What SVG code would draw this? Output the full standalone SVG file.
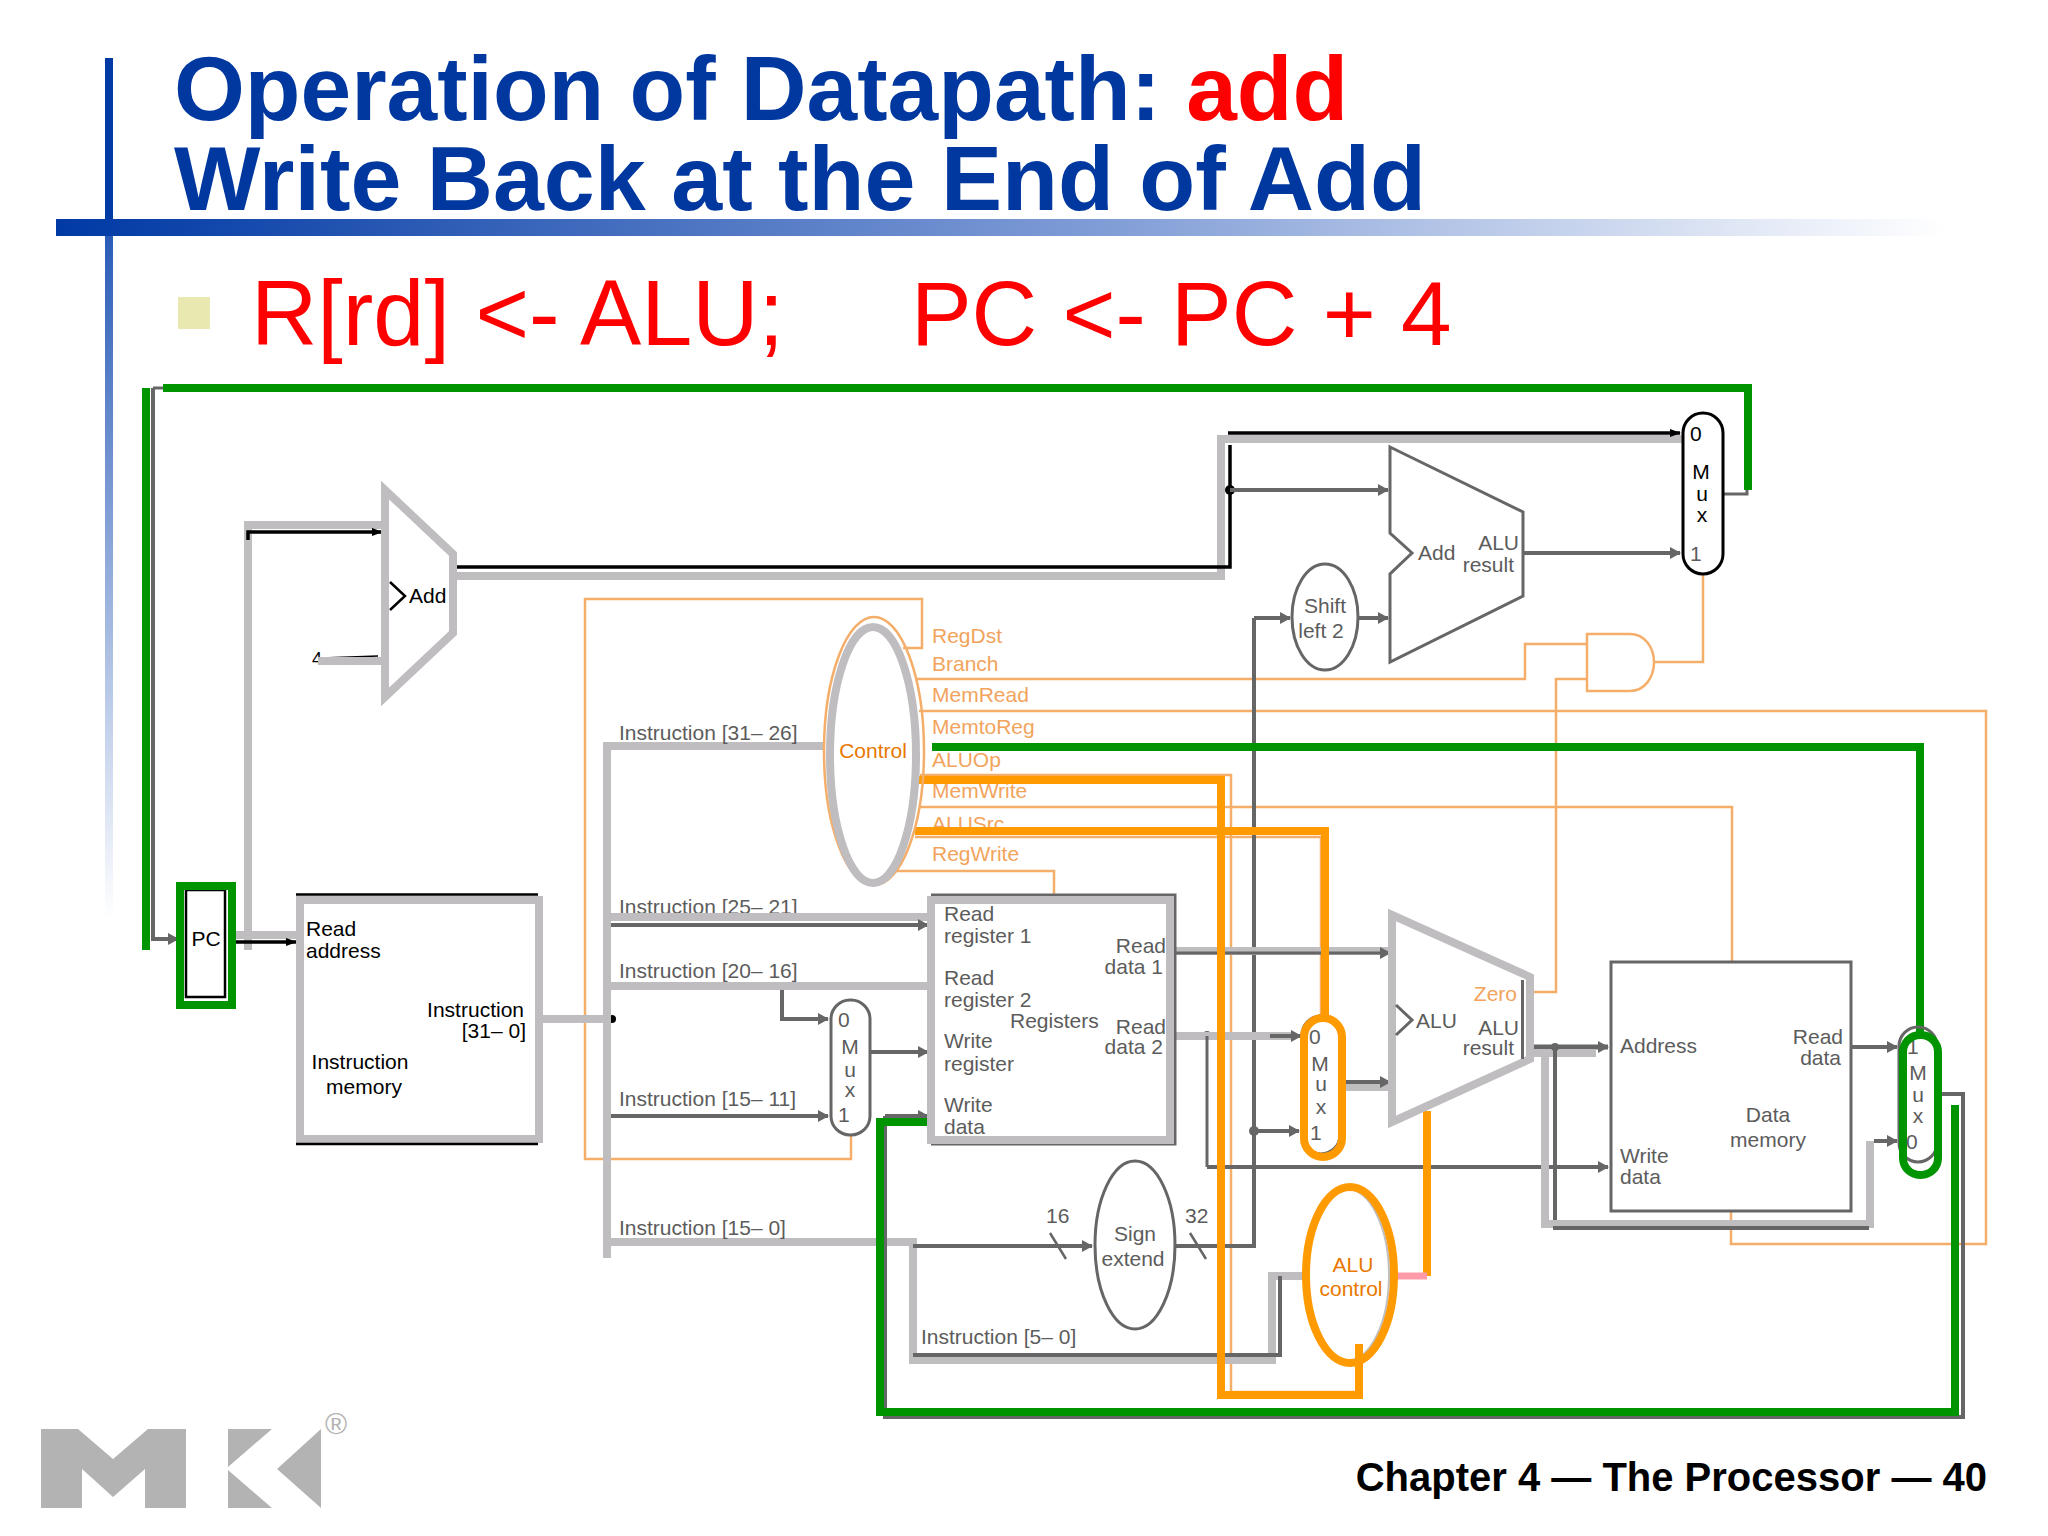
<svg xmlns="http://www.w3.org/2000/svg" width="2048" height="1536" viewBox="0 0 2048 1536">
<style>
text{font-family:"Liberation Sans",Arial,sans-serif;font-size:21px;fill:#5c5c5c}
.k{fill:#000}.o{fill:#f2a45c}.c{fill:#e87800}.m{text-anchor:middle}.e{text-anchor:end}
.title{font-size:91.100px;font-weight:bold;fill:#0038a0}
.sub{font-size:91.500px;fill:#fe0000}
.foot{font-size:40px;font-weight:bold;fill:#000;text-anchor:end}
.g{fill:none;stroke:#bfbdbf;stroke-width:8}
.d{fill:none;stroke:#666;stroke-width:4}
.d3{fill:none;stroke:#666;stroke-width:3}
.b{fill:none;stroke:#000;stroke-width:3.500}
.t{fill:none;stroke:#f4ae6a;stroke-width:2.500}
.or{fill:none;stroke:#ff9a00;stroke-width:8}
.gr{fill:none;stroke:#009400;stroke-width:8}
.ad{marker-end:url(#ad)}.ab{marker-end:url(#ab)}
</style>
<defs>
<marker id="ad" markerUnits="userSpaceOnUse" markerWidth="12" markerHeight="14" refX="10" refY="7" orient="auto"><path d="M0 1L11 7L0 13Z" fill="#666"/></marker>
<marker id="ab" markerUnits="userSpaceOnUse" markerWidth="12" markerHeight="12" refX="10" refY="6" orient="auto"><path d="M0 2L11 6L0 10Z" fill="#000"/></marker>
<linearGradient id="hbar" gradientUnits="userSpaceOnUse" x1="56" y1="0" x2="1946" y2="0"><stop offset="0" stop-color="#003aa5"/><stop offset=".12" stop-color="#1a4dae"/><stop offset=".55" stop-color="#7f9cd6"/><stop offset="1" stop-color="#fff"/></linearGradient>
<linearGradient id="vbar" gradientUnits="userSpaceOnUse" x1="0" y1="235" x2="0" y2="920"><stop offset="0" stop-color="#2a5cb8"/><stop offset="1" stop-color="#fff"/></linearGradient>
</defs>
<rect width="2048" height="1536" fill="#fff"/>

<g id="frame">
<rect x="105" y="58" width="8" height="170" fill="#003aa5"/>
<rect x="105" y="228" width="8" height="692" fill="url(#vbar)"/>
<rect x="56" y="219" width="1890" height="17" fill="url(#hbar)"/>
<rect x="178" y="297" width="32" height="32" fill="#e8e8b0"/>
<text class="title" x="174" y="120">Operation of Datapath: <tspan fill="#fe0000">add</tspan></text>
<text class="title" style="font-size:91.600px" x="174" y="210">Write Back at the End of Add</text>
<text class="sub" style="font-size:91.800px" x="251" y="345">R[rd] &lt;- ALU;</text>
<text class="sub" style="font-size:90.900px" x="911" y="345">PC &lt;- PC + 4</text>
<text class="foot" x="1987" y="1491">Chapter 4 — The Processor — 40</text>
</g>

<g id="logo" fill="#b4b3b4">
<path d="M41 1429H78L113 1459L148 1429H186V1508H145V1469L113 1497L82 1469V1508H41Z"/>
<path d="M228 1429H272L228 1467ZM228 1470L272 1508H228ZM321 1429V1508L277 1469Z"/>
<text x="325" y="1434" style="font-size:30px;fill:#b4b3b4">®</text>
</g>

<g id="under-wire-labels">
<text x="619" y="914">Instruction [25– 21]</text>
<text class="o" x="932" y="798">MemWrite</text>
<text class="o" x="932" y="831">ALUSrc</text>
<text x="312" y="665" class="k" style="font-size:18px">4</text>
</g>

<g id="connectors">
<!-- tan control wires -->
<path class="t" d="M903 648H922V599H585V1159H851V1135"/>
<path class="t" d="M917 679H1525V644H1587"/>
<path class="t" d="M1533 992H1556V679H1587"/>
<path class="t" d="M1654 662H1703V574"/>
<path class="t" d="M919 711H1986V1244H1731V1211"/>
<path class="t" d="M920 775H1231V1392H1356"/>
<path class="t" d="M920 807H1732V962"/>
<path class="t" d="M915 837H1321V1018"/>
<path class="t" d="M895 871H1054V895"/>

<!-- PC and fetch -->
<path class="g" d="M248 950V525H383"/>
<path class="b ab" d="M248 540V532H382"/>
<path class="g" d="M232 935H296"/>
<path class="b ab" d="M232 942H296"/>
<path d="M321 658L378 656" stroke="#000" stroke-width="1.500" fill="none"/>
<path class="g" d="M318 661H385"/>
<path class="d ad" d="M153 388V939H178"/>
<path class="d3" d="M153 388H165"/>
<path class="g" d="M457 576H1221V439H1683"/>
<path class="b" d="M457 567H1230V445"/>
<path class="b ab" d="M1228 433H1680"/>
<circle cx="1230" cy="490" r="5" fill="#000"/>
<path class="d ad" d="M1230 490H1388"/>
<path class="d ad" d="M1523 553H1680"/>
<path class="d ad" d="M1358 618H1388"/>
<path class="d3" d="M1723 494H1747V490"/>

<!-- instruction bus -->
<circle cx="612" cy="1019" r="4" fill="#000"/>
<path class="g" d="M543 1019H607"/>
<path class="g" d="M825 746H607V1258"/>
<path class="g" d="M611 917H928"/>
<path class="d ad" d="M611 925H928"/>
<path class="g" d="M611 986H928"/>
<path class="d ad" d="M782 990V1019H828"/>
<path class="d ad" d="M611 1116H828"/>
<path class="d ad" d="M870 1052H928"/>
<path class="g" d="M611 1242H913V1360H1272V1276H1303"/>
<path class="d ad" d="M913 1246H1092"/>
<path class="d" d="M913 1355H1280V1276"/>
<path class="d" d="M1050 1233L1066 1259M1190 1233L1206 1259" style="stroke-width:2.500"/>
<path class="d" d="M1175 1246H1254V618"/>
<path class="d ad" d="M1254 618H1290"/>
<circle cx="1254" cy="1131" r="5" fill="#666"/>
<path class="d ad" d="M1254 1131H1299"/>

<!-- register and ALU data -->
<circle cx="1207" cy="1035" r="4" fill="#666"/>
<path class="g" d="M1175 951H1390"/>
<path class="d3 ad" d="M1175 953H1390"/>
<path class="g" d="M1175 1036H1292"/>
<path class="d ad" d="M1270 1036H1301"/>
<path class="d3" d="M1207 1036V1167"/>
<path class="d ad" d="M1207 1167H1608"/>
<path class="g" d="M1342 1087H1390"/>
<path class="d ad" d="M1342 1082H1390"/>
<path class="d" d="M1532 1047H1608" style="stroke-width:5"/>
<path class="d ad" d="M1590 1047H1608"/>
<path class="g" d="M1532 1053H1596"/>
<circle cx="1555" cy="1047" r="4" fill="#666"/>
<path class="g" d="M1545 1053V1224H1870V1141"/>
<path class="d" d="M1555 1047V1220"/>
<path class="d" d="M1553 1228H1869"/>
<path class="d ad" d="M1874 1141H1897"/>
<path class="d ad" d="M1851 1047H1897"/>
<path class="d" d="M1941 1094H1963V1417H885V1116"/>
<path class="d ad" d="M885 1116H928"/>

<!-- highlighted wires -->
<path class="or" d="M915 780H1221V1395H1359V1344"/>
<path class="or" d="M915 831H1325V1020"/>
<path class="or" d="M1427 1111V1276"/>
<path d="M1392 1276H1427" stroke="#ff9aa8" stroke-width="7" fill="none"/>
<path class="gr" d="M163 388H1748V490"/>
<path class="gr" d="M146 388V950"/>
<path class="gr" d="M932 747H1920V1035"/>
<path class="gr" d="M932 1122H880V1412H1955V1105"/>
</g>

<g id="pc">
<rect x="186" y="890" width="39" height="107" fill="none" stroke="#000" stroke-width="2.500"/>
<rect x="180" y="886" width="52" height="119" class="gr"/>
<text class="m k" x="206" y="946">PC</text>
</g>
<g id="adder1">
<path class="g" d="M385 490L453 554V633L385 697Z" fill="#fff"/>
<path d="M390 582L405 596L390 610" fill="none" stroke="#000" stroke-width="2.500"/>
<text class="k" x="409" y="603">Add</text>
</g>
<g id="instruction-memory">
<rect class="g" x="300" y="900" width="239" height="239"/>
<path d="M296 894.500H538M296 1144H538" stroke="#000" stroke-width="2.500" fill="none"/>
<text class="k" x="306" y="936">Read</text>
<text class="k" x="306" y="958">address</text>
<text class="k e" x="524" y="1017">Instruction</text>
<text class="k e" x="526" y="1038">[31– 0]</text>
<text class="k m" x="360" y="1069">Instruction</text>
<text class="k m" x="364" y="1094">memory</text>
</g>
<g id="mux-pc">
<rect x="1683" y="413" width="40" height="161" rx="20" fill="#fff" stroke="#000" stroke-width="3"/>
<text class="k" x="1690" y="441">0</text>
<text class="k m" x="1701" y="479">M</text>
<text class="k m" x="1702" y="501">u</text>
<text class="k m" x="1702" y="522">x</text>
<text x="1690" y="561">1</text>
</g>
<g id="adder2">
<path class="d3" d="M1390 447L1523 512V596L1390 662V574L1412 553L1390 533Z"/>
<text x="1418" y="560">Add</text>
<text class="e" x="1519" y="550">ALU</text>
<text class="e" x="1514" y="572">result</text>
</g>
<g id="shift-left-2">
<ellipse class="d3" cx="1325" cy="617" rx="33" ry="53"/>
<text class="m" x="1325" y="613">Shift</text>
<text class="m" x="1321" y="638">left 2</text>
</g>
<g id="and-gate">
<path class="t" d="M1587 634H1630C1645 634 1654 648 1654 662C1654 677 1645 691 1630 691H1587Z"/>
</g>
<g id="control">
<ellipse class="t" cx="874" cy="751" rx="50" ry="134"/>
<ellipse class="g" cx="873" cy="755" rx="43" ry="128"/>
<text class="c m" x="873" y="758">Control</text>
<text class="o" x="932" y="643">RegDst</text>
<text class="o" x="932" y="671">Branch</text>
<text class="o" x="932" y="702">MemRead</text>
<text class="o" x="932" y="734">MemtoReg</text>
<text class="o" x="932" y="767">ALUOp</text>
<text class="o" x="932" y="861">RegWrite</text>
</g>
<g id="instruction-labels">
<text x="619" y="740">Instruction [31– 26]</text>
<text x="619" y="978">Instruction [20– 16]</text>
<text x="619" y="1106">Instruction [15– 11]</text>
<text x="619" y="1235">Instruction [15– 0]</text>
<text x="921" y="1344">Instruction [5– 0]</text>
<text x="1046" y="1223">16</text>
<text x="1185" y="1223">32</text>
</g>
<g id="mux-regdst">
<rect class="d3" x="831" y="1000" width="39" height="135" rx="19"/>
<text x="838" y="1027">0</text>
<text class="m" x="850" y="1054">M</text>
<text class="m" x="850" y="1077">u</text>
<text class="m" x="850" y="1097">x</text>
<text x="838" y="1122">1</text>
</g>
<g id="registers">
<path class="d3" d="M931 895H1175V1144H931"/>
<rect class="g" x="931" y="900" width="239" height="240"/>
<text x="944" y="921">Read</text>
<text x="944" y="943">register 1</text>
<text x="944" y="985">Read</text>
<text x="944" y="1007">register 2</text>
<text x="944" y="1048">Write</text>
<text x="944" y="1071">register</text>
<text x="944" y="1112">Write</text>
<text x="944" y="1134">data</text>
<text x="1010" y="1028">Registers</text>
<text class="e" x="1166" y="953">Read</text>
<text class="e" x="1163" y="974">data 1</text>
<text class="e" x="1166" y="1034">Read</text>
<text class="e" x="1163" y="1054">data 2</text>
</g>
<g id="sign-extend">
<ellipse class="d3" cx="1135" cy="1245" rx="40" ry="84"/>
<text class="m" x="1135" y="1241">Sign</text>
<text class="m" x="1133" y="1266">extend</text>
</g>
<g id="mux-alusrc">
<rect class="d3" x="1302" y="1016" width="38" height="138" rx="19"/>
<rect class="or" x="1304" y="1018" width="38" height="139" rx="19"/>
<text x="1309" y="1044">0</text>
<text class="m" x="1320" y="1071">M</text>
<text class="m" x="1321" y="1091">u</text>
<text class="m" x="1321" y="1114">x</text>
<text x="1310" y="1140">1</text>
</g>
<g id="alu">
<path class="g" d="M1392 915L1530 977V1059L1392 1122Z" fill="#fff"/>
<path d="M1396 1005L1412 1020L1396 1035" class="d3"/>
<path d="M1522.500 980V1059" class="d3"/>
<text x="1416" y="1028">ALU</text>
<text class="o e" x="1517" y="1001">Zero</text>
<text class="e" x="1519" y="1035">ALU</text>
<text class="e" x="1514" y="1055">result</text>
</g>
<g id="alu-control">
<ellipse cx="1347" cy="1275" rx="42" ry="86" fill="none" stroke="#bfbdbf" stroke-width="2"/>
<ellipse class="or" cx="1350" cy="1275" rx="44" ry="88"/>
<text class="c m" x="1353" y="1272">ALU</text>
<text class="c m" x="1351" y="1296">control</text>
</g>
<path class="or" d="M1359 1395V1344"/>
<g id="data-memory">
<rect class="d3" x="1611" y="962" width="240" height="249"/>
<text x="1620" y="1053">Address</text>
<text class="e" x="1843" y="1044">Read</text>
<text class="e" x="1841" y="1065">data</text>
<text class="m" x="1768" y="1122">Data</text>
<text class="m" x="1768" y="1147">memory</text>
<text x="1620" y="1163">Write</text>
<text x="1620" y="1184">data</text>
</g>
<g id="mux-memtoreg">
<rect class="d3" x="1899" y="1027" width="38" height="135" rx="19"/>
<text x="1907" y="1054">1</text>
<rect class="gr" x="1903" y="1035" width="35" height="140" rx="17"/>
<text class="m" x="1918" y="1080">M</text>
<text class="m" x="1918" y="1102">u</text>
<text class="m" x="1918" y="1123">x</text>
<text x="1906" y="1149">0</text>
</g>
</svg>
